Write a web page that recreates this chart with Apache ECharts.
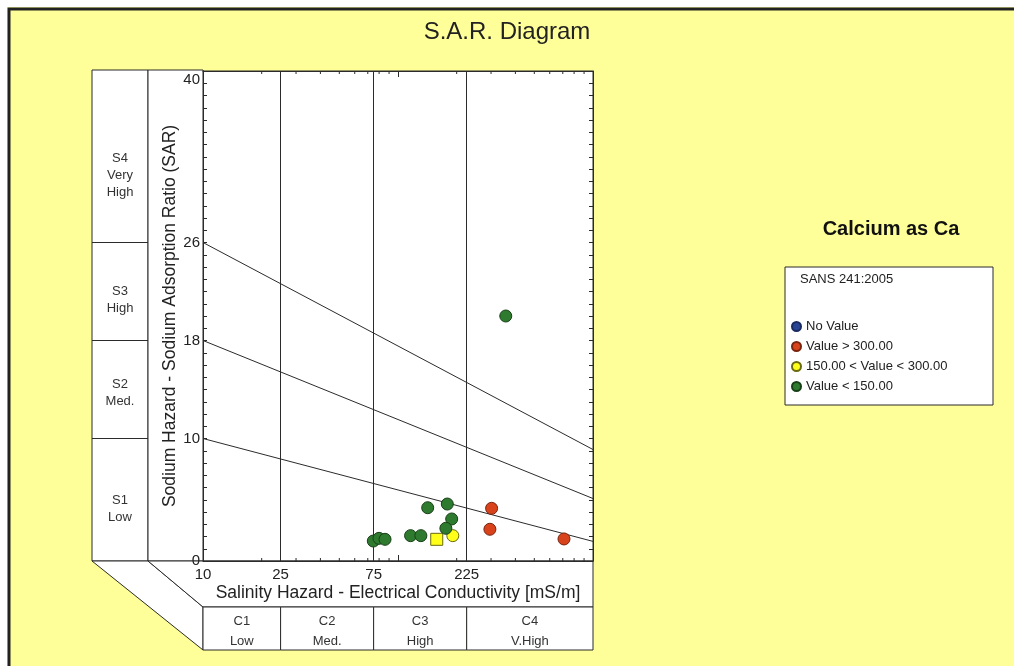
<!DOCTYPE html>
<html>
<head>
<meta charset="utf-8">
<script src="https://cdn.jsdelivr.net/npm/echarts@6/dist/echarts.min.js"></script>
<style>
html, body { margin: 0; padding: 0; background: #fff; }
#chart { width: 1014px; height: 666px; }
</style>
</head>
<body>
<div id="chart"></div>
<script>
var FONT = '"Liberation Sans", Arial, sans-serif';
var INK = '#2b2b2b';

// samples: EC [mS/m] and SAR
var greenEC  = [142, 179, 188.5, 176, 74.7, 79.9, 85.8, 116, 131, 357];
var greenSAR = [4.35, 4.65, 3.43, 2.67, 1.63, 1.85, 1.77, 2.07, 2.07, 20.0];
var redEC  = [302, 296, 710];
var redSAR = [4.3, 2.59, 1.8];
var yellowEC  = [158, 191];
var yellowSAR = [1.77, 2.07];
var yellowShape = ['rect', 'circle'];

var seriesNames  = ['No Value', 'Value > 300.00', '150.00 < Value < 300.00', 'Value < 150.00'];
var seriesColors = ['#2a4494', '#d8431c', '#ffff1a', '#2e7a2e'];

// diagram classes
var ecRange = [10, 1000];
var ecBounds = [25, 75, 225];
var ecTickLabels = [10, 25, 75, 225];
var sarRange = [0, 40];
var sarTickLabels = [0, 10, 18, 26, 40];
var sarLineStart = [26, 18, 10];   // SAR at EC = 10
var sarLineEnd   = [9.1, 5.1, 1.6]; // SAR at EC = 1000
var sBounds = [0, 10, 18, 26, 40];
var sClasses = ['S1\nLow', 'S2\nMed.', 'S3\nHigh', 'S4\nVery\nHigh'];
var cClasses = ['C1\nLow', 'C2\nMed.', 'C3\nHigh', 'C4\nV.High'];

function zip(a, b) {
  return a.map(function (v, i) { return [v, b[i]]; });
}

var chart = echarts.init(document.getElementById('chart'));

var series = [];
sarLineStart.forEach(function (s, i) {
  series.push({
    type: 'line',
    data: [[ecRange[0], s], [ecRange[1], sarLineEnd[i]]],
    symbol: 'none',
    silent: true,
    lineStyle: { color: INK, width: 1 },
    markLine: i === 0 ? {
      symbol: 'none',
      silent: true,
      label: { show: false },
      lineStyle: { color: INK, width: 1, type: 'solid' },
      data: ecBounds.map(function (v) { return { xAxis: v }; })
    } : undefined
  });
});

var pointBorder = ['#1a2a60', '#7a2410', '#6a6a10', '#184018'];
var pointData = [[], zip(redEC, redSAR), zip(yellowEC, yellowSAR), zip(greenEC, greenSAR)];
seriesNames.forEach(function (name, i) {
  series.push({
    type: 'scatter',
    name: name,
    symbol: 'circle',
    symbolSize: 12,
    z: 5,
    itemStyle: { color: seriesColors[i], borderColor: pointBorder[i], borderWidth: 1, opacity: 1 },
    data: pointData[i].map(function (p, j) {
      return i === 2 ? { value: p, symbol: yellowShape[j] } : p;
    })
  });
});

var yLabel = function (v) {
  if (v === 40) return '{t|40}';
  return sarTickLabels.indexOf(v) >= 0 ? String(v) : '';
};

var axisLine = { show: true, onZero: false, lineStyle: { color: INK } };

var option = {
  animation: false,
  backgroundColor: '#ffff99',
  textStyle: { fontFamily: FONT },
  grid: {
    left: 203, top: 71, width: 390, height: 490,
    show: true, backgroundColor: '#fff', borderColor: INK, borderWidth: 1,
    containLabel: false, outerBoundsMode: 'none'
  },
  legend: {
    data: seriesNames,
    orient: 'vertical',
    left: 786, top: 315,
    icon: 'circle',
    itemWidth: 9, itemHeight: 9, itemGap: 7,
    textStyle: { fontSize: 13, color: '#222', fontFamily: FONT }
  },
  xAxis: [{
    type: 'log', logBase: 10, min: ecRange[0], max: ecRange[1], z: 5,
    name: 'Salinity Hazard - Electrical Conductivity [mS/m]',
    nameLocation: 'middle', nameGap: 23,
    nameTextStyle: { fontSize: 17.5, color: '#222' },
    axisLine: axisLine,
    axisTick: { show: true, inside: true, length: 6, lineStyle: { color: INK } },
    axisLabel: { show: false },
    splitLine: { show: false }
  }, {
    type: 'log', logBase: 10, min: ecRange[0], max: ecRange[1], position: 'top', z: 5,
    axisLine: axisLine,
    axisTick: { show: true, inside: true, length: 6, lineStyle: { color: INK } },
    axisLabel: { show: false },
    splitLine: { show: false }
  }],
  yAxis: [{
    type: 'value', min: sarRange[0], max: sarRange[1], interval: 1, z: 5,
    name: 'Sodium Hazard - Sodium Adsorption Ratio (SAR)',
    nameLocation: 'middle', nameGap: 24,
    nameTextStyle: { fontSize: 17.5, color: '#222' },
    axisLine: axisLine,
    axisTick: { show: true, inside: true, length: 4, lineStyle: { color: INK } },
    axisLabel: {
      fontSize: 15, color: '#222', margin: 3, formatter: yLabel,
      rich: { t: { fontSize: 15, color: '#222', padding: [18, 0, 0, 0] } }
    },
    splitLine: { show: false }
  }, {
    type: 'value', min: sarRange[0], max: sarRange[1], interval: 1, position: 'right', z: 5,
    axisLine: axisLine,
    axisTick: { show: true, inside: true, length: 4, lineStyle: { color: INK } },
    axisLabel: { show: false },
    splitLine: { show: false }
  }],
  series: series
};

chart.setOption(option);

function xPix(v) { return chart.convertToPixel({ xAxisIndex: 0 }, v); }
function yPix(v) { return chart.convertToPixel({ yAxisIndex: 0 }, v); }

var g = [];
var L = xPix(ecRange[0]), R = xPix(ecRange[1]);
var B = yPix(sarRange[0]), T = yPix(sarRange[1]) - 1;
var colA = 92, colB = 148, bandY = 607, boxY = 650;
var sNudge = [9, 3, 8, 19];
var lineStyle = { stroke: INK, lineWidth: 1 };

// outer frame
g.push({ type: 'rect', z: 1, shape: { x: 0, y: 0, width: 1014, height: 7 }, style: { fill: '#fff' } });
g.push({ type: 'rect', z: 1, shape: { x: 0, y: 0, width: 7, height: 666 }, style: { fill: '#fff' } });
g.push({ type: 'polyline', z: 2, shape: { points: [[9, 666], [9, 9], [1014, 9]] }, style: { stroke: '#222', lineWidth: 3, fill: null } });

// left S panel
g.push({ type: 'rect', z: 1, shape: { x: colA, y: T, width: colB - colA, height: B - T }, style: { fill: '#fff', stroke: INK, lineWidth: 1 } });
g.push({ type: 'rect', z: 1, shape: { x: colB, y: T, width: L - colB, height: B - T }, style: { fill: '#fff', stroke: INK, lineWidth: 1 } });
sClasses.forEach(function (txt, i) {
  var y0 = yPix(sBounds[i]), y1 = yPix(sBounds[i + 1]);
  if (i > 0) g.push({ type: 'line', z: 2, shape: { x1: colA, y1: y0, x2: colB, y2: y0 }, style: lineStyle });
  g.push({ type: 'text', z: 3, x: (colA + colB) / 2, y: (y0 + (i === 3 ? T : y1)) / 2 + sNudge[i],
    style: { text: txt, fontSize: 13, fontFamily: FONT, fill: '#333', lineHeight: 17, align: 'center', verticalAlign: 'middle' } });
});

// floor and bottom C panel
g.push({ type: 'polygon', z: 1, shape: { points: [[colA, B], [colB, B], [L, bandY], [L, boxY]] }, style: { fill: '#fff', stroke: INK, lineWidth: 1 } });
g.push({ type: 'polygon', z: 1, shape: { points: [[colB, B], [R, B], [R, bandY], [L, bandY]] }, style: { fill: '#fff', stroke: INK, lineWidth: 1 } });
var cEdges = [ecRange[0]].concat(ecBounds, [ecRange[1]]);
cClasses.forEach(function (txt, i) {
  var x0 = xPix(cEdges[i]), x1 = xPix(cEdges[i + 1]);
  g.push({ type: 'rect', z: 1, shape: { x: x0, y: bandY, width: x1 - x0, height: boxY - bandY }, style: { fill: '#fff', stroke: INK, lineWidth: 1 } });
  g.push({ type: 'text', z: 3, x: (x0 + x1) / 2, y: (bandY + boxY) / 2 + 3,
    style: { text: txt, fontSize: 13, fontFamily: FONT, fill: '#333', lineHeight: 20, align: 'center', verticalAlign: 'middle' } });
});

// x tick labels
ecTickLabels.forEach(function (v) {
  g.push({ type: 'text', z: 3, x: xPix(v), y: B + 14,
    style: { text: String(v), fontSize: 15, fontFamily: FONT, fill: '#222', align: 'center', verticalAlign: 'middle' } });
});

// log minor ticks, top and bottom
for (var d = ecRange[0]; d < ecRange[1]; d *= 10) {
  for (var k = 2; k <= 9; k++) {
    var xp = xPix(k * d);
    g.push({ type: 'line', z: 6, shape: { x1: xp, y1: B, x2: xp, y2: B - 3 }, style: lineStyle });
    g.push({ type: 'line', z: 6, shape: { x1: xp, y1: T + 1, x2: xp, y2: T + 4 }, style: lineStyle });
  }
}

// titles
g.push({ type: 'text', z: 3, x: 507, y: 32,
  style: { text: 'S.A.R. Diagram', fontSize: 24, fontFamily: FONT, fill: '#222', align: 'center', verticalAlign: 'middle' } });
g.push({ type: 'text', z: 3, x: 891, y: 229,
  style: { text: 'Calcium as Ca', fontSize: 20, fontWeight: 'bold', fontFamily: FONT, fill: '#111', align: 'center', verticalAlign: 'middle' } });

// legend box
g.push({ type: 'rect', z: 1, shape: { x: 785, y: 267, width: 208, height: 138 }, style: { fill: '#fff', stroke: INK, lineWidth: 1 } });
g.push({ type: 'text', z: 3, x: 800, y: 279,
  style: { text: 'SANS 241:2005', fontSize: 13, fontFamily: FONT, fill: '#222', align: 'left', verticalAlign: 'middle' } });

chart.setOption({ graphic: { elements: g } });
</script>
</body>
</html>
